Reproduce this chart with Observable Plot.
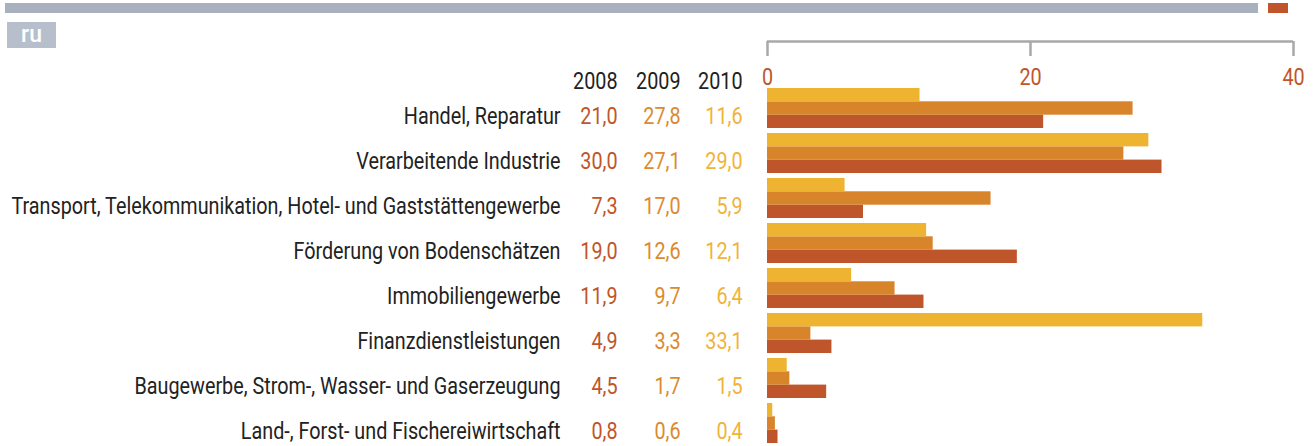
<!DOCTYPE html>
<html>
<head>
<meta charset="utf-8">
<script src="https://cdn.jsdelivr.net/npm/d3@7"></script>
<script src="https://cdn.jsdelivr.net/npm/@observablehq/plot@0.6"></script>
<style>
  html, body { margin: 0; padding: 0; background: #fff; }
  #wrap { position: relative; width: 1315px; height: 446px; overflow: hidden; }
  #topbar { position: absolute; left: 5px; top: 3px; width: 1253px; height: 10px; background: #a9b1bf; }
  #topmark { position: absolute; left: 1268px; top: 3px; width: 20px; height: 10px; background: #c0552b; }
  #tag { position: absolute; left: 7px; top: 22px; width: 49px; height: 26px; background: #b8bfcc; color: #fff;
         font: 500 23px 'Roboto', sans-serif; text-align: center; line-height: 25px; }
  #chart { position: absolute; left: 0; top: 0; }
</style>
</head>
<body>
<div id="wrap">
  <div id="chart"></div>
  <div id="topbar"></div>
  <div id="topmark"></div>
  <div id="tag">ru</div>
</div>
<script>
const categories = [
  "Handel, Reparatur",
  "Verarbeitende Industrie",
  "Transport, Telekommunikation, Hotel- und Gaststättengewerbe",
  "Förderung von Bodenschätzen",
  "Immobiliengewerbe",
  "Finanzdienstleistungen",
  "Baugewerbe, Strom-, Wasser- und Gaserzeugung",
  "Land-, Forst- und Fischereiwirtschaft"
];
const years = ["2008", "2009", "2010"];
const values2008 = [21.0, 30.0, 7.3, 19.0, 11.9, 4.9, 4.5, 0.8];
const values2009 = [27.8, 27.1, 17.0, 12.6, 9.7, 3.3, 1.7, 0.6];
const values2010 = [11.6, 29.0, 5.9, 12.1, 6.4, 33.1, 1.5, 0.4];
const xTicks = [0, 20, 40];

const seriesValues = [values2008, values2009, values2010];
const barColors = ["#bf552b", "#d8842a", "#efb332"];
const textColors = ["#c0552b", "#dc8a2e", "#f0b43a"];
const columnDx = [-150, -87, -25];
// band thirds: 2010 top, 2009 middle, 2008 bottom
const insets = [[26.6, 0], [13.3, 13.3], [0, 26.6]];

const FONT = "'Liberation Sans Narrow', 'Arial Narrow', 'Roboto', sans-serif";
const fmt = v => v.toFixed(1).replace(".", ",");

const rows = years.map((yr, i) => categories.map((c, j) => ({category: c, year: yr, value: seriesValues[i][j]})));

const marks = [];
years.forEach((yr, i) => {
  marks.push(Plot.barX(rows[i], {
    y: "category", x: "value", fill: barColors[i],
    insetTop: insets[i][0], insetBottom: insets[i][1]
  }));
});
// category labels
marks.push(Plot.text(categories, {
  y: d => d, text: d => d, frameAnchor: "left", textAnchor: "end",
  dx: -207, dy: 8, fill: "#222", fontSize: 23
}));
// value columns + headers
years.forEach((yr, i) => {
  marks.push(Plot.text(rows[i], {
    y: "category", text: d => fmt(d.value), frameAnchor: "left", textAnchor: "end",
    dx: columnDx[i], dy: 8, fill: textColors[i], fontSize: 23
  }));
  marks.push(Plot.text([yr], {
    y: () => categories[0], text: d => d, frameAnchor: "left", textAnchor: "end",
    dx: columnDx[i], dy: -27, fill: "#222", fontSize: 23
  }));
});
// axis: line, ticks, labels
marks.push(Plot.ruleY([categories[0]], {x1: xTicks[0], x2: xTicks[xTicks.length - 1], dy: -67, stroke: "#a8a8a8", strokeWidth: 2.5}));
marks.push(Plot.axisX({anchor: "top", ticks: xTicks, tickSize: 15, text: null, label: null, dy: -32, stroke: "#a8a8a8", strokeWidth: 2.5}));
marks.push(Plot.axisX({anchor: "top", ticks: xTicks, tickSize: 0, tickPadding: 0, label: null, dy: -3, fill: "#c0552b", fontSize: 23, tickFormat: d => String(d)}));

const chart = Plot.plot({
  width: 1315,
  height: 446,
  marginLeft: 767,
  marginRight: 22,
  marginTop: 87,
  marginBottom: 2,
  style: {fontFamily: FONT, fontSize: "23px", background: "transparent"},
  x: {domain: [0, 40], axis: null, label: null},
  y: {domain: categories, paddingInner: 0.12, paddingOuter: 0, axis: null, label: null},
  marks
});
// condense the glyphs horizontally about each text's own anchor point
chart.querySelectorAll("text").forEach(t => {
  const tr = t.getAttribute("transform");
  if (tr && tr.startsWith("translate")) t.setAttribute("transform", tr + " scale(0.86,1)");
});
document.getElementById("chart").appendChild(chart);
</script>
</body>
</html>
